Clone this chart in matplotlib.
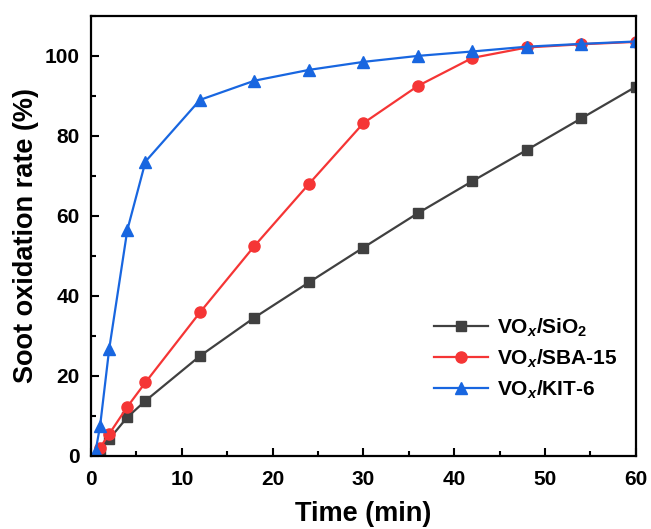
import matplotlib
matplotlib.use("Agg")
import matplotlib.pyplot as plt
from matplotlib.ticker import MultipleLocator

plt.rcParams['font.family'] = ['Liberation Sans', 'DejaVu Sans']
plt.rcParams['font.weight'] = 'bold'
plt.rcParams['mathtext.fontset'] = 'custom'
plt.rcParams['mathtext.rm'] = 'Liberation Sans:bold'
plt.rcParams['mathtext.bf'] = 'Liberation Sans:bold'
plt.rcParams['mathtext.it'] = 'Liberation Sans:bold:italic'

# Data
t_sio2 = [1, 2, 4, 6, 12, 18, 24, 30, 36, 42, 48, 54, 60]
y_sio2 = [1.2, 4.2, 9.7, 13.8, 25.0, 34.6, 43.4, 52.1, 60.7, 68.7, 76.5, 84.4, 92.3]
t_sba = [1, 2, 4, 6, 12, 18, 24, 30, 36, 42, 48, 54, 60]
y_sba = [2.1, 5.5, 12.3, 18.4, 35.9, 52.5, 68.0, 83.2, 92.5, 99.5, 102.1, 102.9, 103.5]
t_kit = [0.5, 1, 2, 4, 6, 12, 18, 24, 30, 36, 42, 48, 54, 60]
y_kit = [1.2, 7.5, 26.7, 56.5, 73.6, 89.0, 93.8, 96.5, 98.5, 100.0, 101.1, 102.3, 103.0, 103.6]

labels = ['VO$_x$/SiO$_2$', 'VO$_x$/SBA-15', 'VO$_x$/KIT-6']

fig = plt.figure(figsize=(6.51, 5.29), dpi=100)
ax = fig.add_axes([0.1398, 0.138, 0.837, 0.832])

ax.plot(t_sio2, y_sio2, color='#404040', marker='s', markersize=7.5, lw=1.6, label=labels[0])
ax.plot(t_sba, y_sba, color='#f53535', marker='o', markersize=8, lw=1.6, label=labels[1])
ax.plot(t_kit, y_kit, color='#1866e0', marker='^', markersize=8.5, lw=1.6, label=labels[2])

ax.set_xlim(0, 60)
ax.set_ylim(0, 110)
ax.xaxis.set_major_locator(MultipleLocator(10))
ax.xaxis.set_minor_locator(MultipleLocator(5))
ax.yaxis.set_major_locator(MultipleLocator(20))
ax.yaxis.set_minor_locator(MultipleLocator(10))
ax.tick_params(which='both', direction='in', width=1.5, labelsize=15)
ax.tick_params(which='major', length=6)
ax.tick_params(which='minor', length=3.5)
ax.tick_params(axis='y', which='both', pad=8)
ax.tick_params(axis='x', which='both', pad=10)
for lab in ax.get_xticklabels() + ax.get_yticklabels():
    lab.set_fontweight('bold')
for s in ax.spines.values():
    s.set_linewidth(1.6)

ax.set_xlabel('Time (min)', fontsize=19.5, fontweight='bold', labelpad=9)
ax.set_ylabel('Soot oxidation rate (%)', fontsize=19.5, fontweight='bold', labelpad=4)

leg = ax.legend(loc='lower right', bbox_to_anchor=(1.0, 0.083), frameon=False,
                handlelength=2.6, labelspacing=0.42, handletextpad=0.4,
                prop={'weight': 'bold', 'size': 15})

fig.savefig('out.png', dpi=100)
